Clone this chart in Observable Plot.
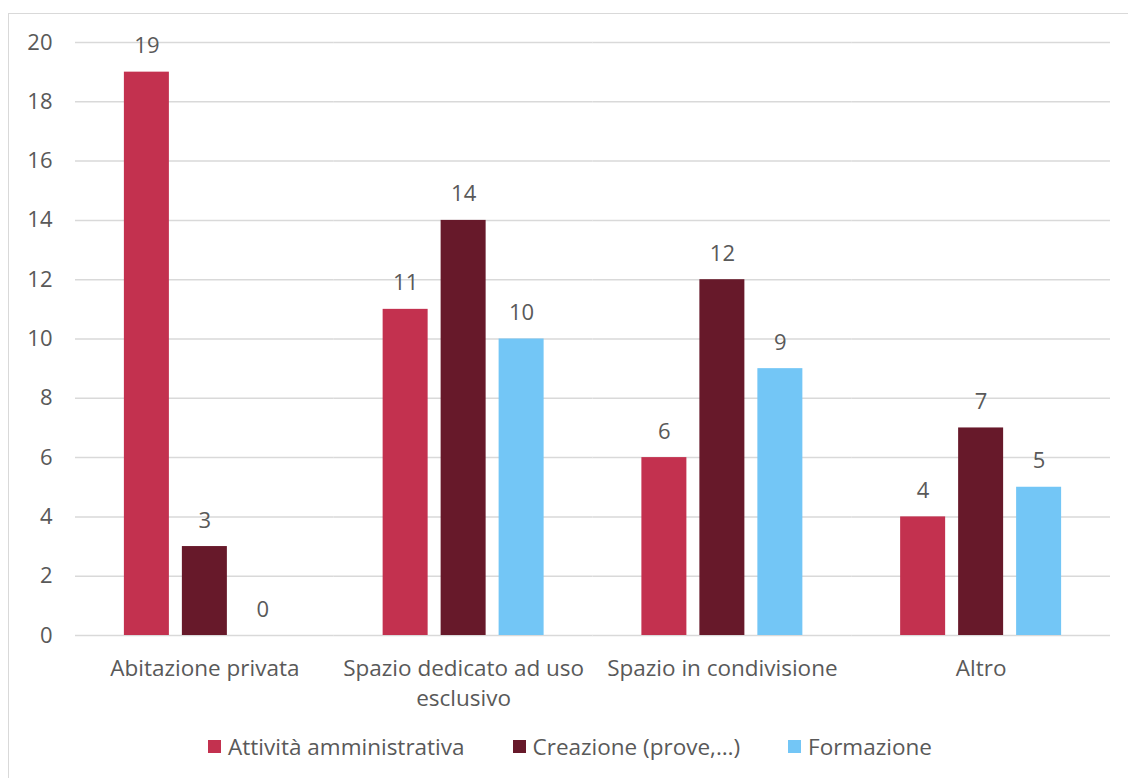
<!DOCTYPE html>
<html>
<head>
<meta charset="utf-8">
<script src="https://cdn.jsdelivr.net/npm/d3@7"></script>
<script src="https://cdn.jsdelivr.net/npm/@observablehq/plot@0.6"></script>
<style>
  html, body { margin: 0; padding: 0; background: #fff; overflow: hidden; }
  body { width: 1128px; height: 778px; position: relative; font-family: "Open Sans", sans-serif; color: #595959; }
  #frame { position: absolute; left: 8px; top: 13px; width: 1200px; height: 900px; border: 1.5px solid #d9d9d9; box-sizing: border-box; }
  #chart { position: absolute; left: 0; top: 0; }
  #legend { position: absolute; left: 0; top: 731px; width: 1140px; display: flex; justify-content: center; gap: 48px; font-size: 22.5px; }
  .item { display: flex; align-items: center; gap: 7px; }
  .sw { width: 13px; height: 13px; display: inline-block; }
</style>
</head>
<body>
<div id="frame"></div>
<div id="chart"></div>
<div id="legend"></div>
<script>
const categories = ["Abitazione privata", "Spazio dedicato ad uso esclusivo", "Spazio in condivisione", "Altro"];
const categoryLabels = ["Abitazione privata", "Spazio dedicato ad uso\nesclusivo", "Spazio in condivisione", "Altro"];
const series = ["Attività amministrativa", "Creazione (prove,…)", "Formazione"];
const amministrativa = [19, 11, 6, 4];
const creazione = [3, 14, 12, 7];
const formazione = [0, 10, 9, 5];
const colors = ["#C3314F", "#67192A", "#73C6F6"];
const yTicks = [0, 2, 4, 6, 8, 10, 12, 14, 16, 18, 20];

const seriesValues = [amministrativa, creazione, formazione];
const data = [];
categories.forEach((c, i) => {
  series.forEach((s, j) => {
    data.push({category: c, series: s, value: seriesValues[j][i]});
  });
});
const labelOf = new Map(categories.map((c, i) => [c, categoryLabels[i]]));

const chart = Plot.plot({
  width: 1128,
  height: 715,
  marginLeft: 75,
  marginRight: 18,
  marginTop: 42,
  marginBottom: 80,
  style: {fontFamily: "'Open Sans', sans-serif", fontSize: "22px", color: "#595959", background: "transparent"},
  fx: {domain: categories, padding: 0, round: false},
  x: {domain: series, paddingInner: 0.224, paddingOuter: 0.843, round: false, axis: null},
  y: {domain: [0, 20]},
  color: {domain: series, range: colors},
  marks: [
    Plot.gridY(yTicks, {stroke: "#d9d9d9", strokeOpacity: 1, strokeWidth: 1.5}),
    Plot.axisY(yTicks, {tickSize: 0, tickPadding: 23, label: null, fontSize: 22}),
    Plot.barY(data, {fx: "category", x: "series", y: "value", fill: "series"}),
    Plot.text(data, {fx: "category", x: "series", y: "value", text: "value", dy: -26, fill: "#595959", fontSize: 22}),
    Plot.axisFx({anchor: "bottom", tickSize: 0, tickPadding: 20, label: null, fontSize: 22.5, lineHeight: 1.3, tickFormat: d => labelOf.get(d)})
  ]
});
document.getElementById("chart").appendChild(chart);

const legend = document.getElementById("legend");
series.forEach((s, j) => {
  const item = document.createElement("div");
  item.className = "item";
  const sw = document.createElement("span");
  sw.className = "sw";
  sw.style.background = colors[j];
  const t = document.createElement("span");
  t.textContent = s;
  item.appendChild(sw);
  item.appendChild(t);
  legend.appendChild(item);
});
</script>
</body>
</html>
